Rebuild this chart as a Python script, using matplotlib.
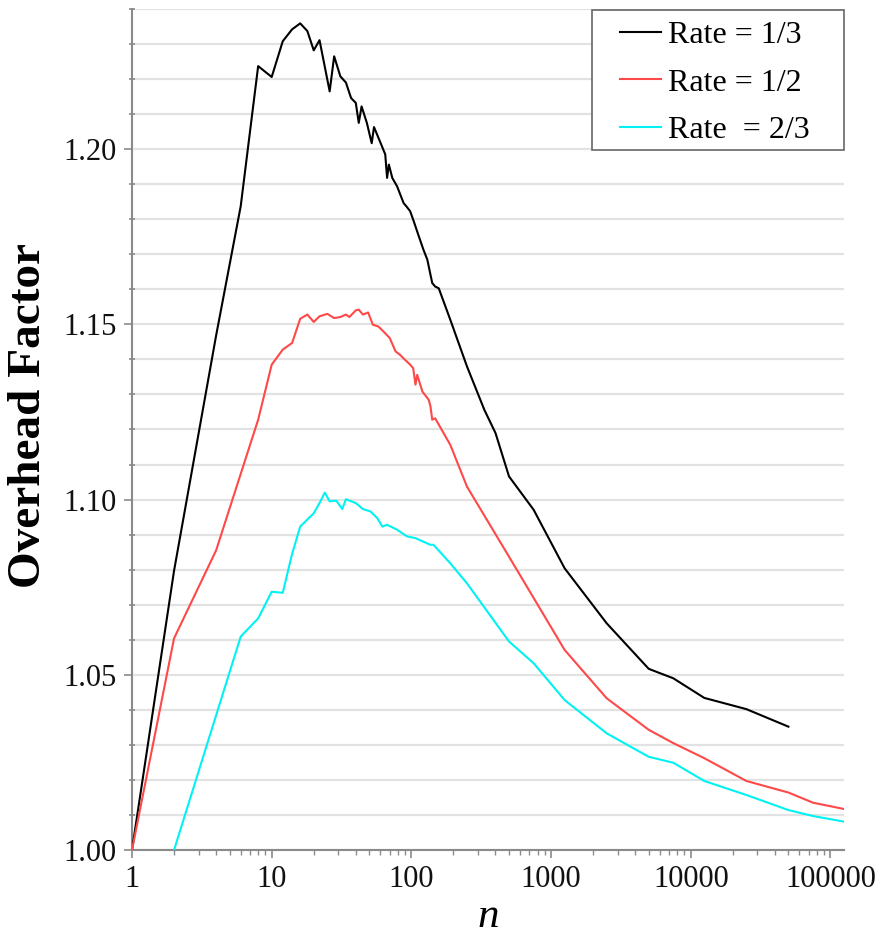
import matplotlib
matplotlib.use("Agg")
import matplotlib.pyplot as plt
from matplotlib.patches import Rectangle
from matplotlib.ticker import FixedLocator, NullFormatter, LogLocator

# ---- data ----
n_13 = [1, 2, 4, 6, 8, 10, 12, 14, 16, 18, 20, 22, 26, 28, 31, 34, 37, 40, 42, 44,
        48, 52, 54, 60, 65, 67, 69, 73, 79, 88, 92, 98, 104, 112, 122, 130, 141,
        148, 157, 190, 250, 333, 400, 500, 750, 1250, 2500, 5000, 7500, 12500,
        25000, 50000]
v_13 = [1.000, 1.0797, 1.1468, 1.1837, 1.2237, 1.2206, 1.2308, 1.2342, 1.2359,
        1.2337, 1.2282, 1.2311, 1.2165, 1.2265, 1.2208, 1.2190, 1.2146, 1.2132,
        1.2075, 1.2122, 1.2075, 1.2017, 1.2063, 1.2019, 1.1985, 1.1918, 1.1956,
        1.1918, 1.1894, 1.1846, 1.1837, 1.1823, 1.1794, 1.1756, 1.1713, 1.1685,
        1.1618, 1.1608, 1.1603, 1.1513, 1.1380, 1.1256, 1.1190, 1.1066, 1.0971,
        1.0804, 1.0647, 1.0517, 1.0490, 1.0434, 1.0402, 1.0352]

n_12 = [1, 2, 4, 8, 10, 12, 14, 16, 18, 20, 22, 25, 28, 31, 34, 36, 40, 42, 45,
        49, 53, 58, 63, 70, 77, 83, 90, 98, 103, 107, 110, 120, 133, 137, 141,
        148, 190, 250, 500, 1250, 2500, 5000, 7500, 12500, 25000, 50000, 75000,
        125000]
v_12 = [1.000, 1.0604, 1.0855, 1.1228, 1.1385, 1.1428, 1.1447, 1.1516, 1.1528,
        1.1507, 1.1523, 1.1530, 1.1518, 1.1521, 1.1528, 1.1521, 1.1540, 1.1542,
        1.1528, 1.1534, 1.1499, 1.1494, 1.1480, 1.1461, 1.1423, 1.1413, 1.1399,
        1.1385, 1.1375, 1.1328, 1.1356, 1.1308, 1.1285, 1.1266, 1.1228, 1.1232,
        1.1156, 1.1037, 1.0837, 1.0571, 1.0433, 1.0343, 1.0305, 1.0262, 1.0197,
        1.0164, 1.0135, 1.0117]

n_23 = [2, 6, 8, 10, 12, 14, 16, 20, 22, 24, 26, 29, 32, 34, 40, 45, 51, 57, 62,
        67, 79, 93, 107, 120, 137, 144, 190, 250, 500, 750, 1250, 2500, 5000,
        7500, 12500, 25000, 50000, 75000, 125000]
v_23 = [1.000, 1.0609, 1.0661, 1.0737, 1.0734, 1.0845, 1.0923, 1.0961, 1.0990,
        1.1020, 1.0995, 1.0997, 1.0973, 1.1001, 1.0990, 1.0973, 1.0966, 1.0947,
        1.0923, 1.0928, 1.0914, 1.0895, 1.0890, 1.0881, 1.0871, 1.0871, 1.0818,
        1.0761, 1.0595, 1.0533, 1.0428, 1.0333, 1.0266, 1.0249, 1.0197, 1.0157,
        1.0114, 1.0097, 1.0081]

labels = ["Rate = 1/3", "Rate = 1/2", "Rate  = 2/3"]
colors = ["#000000", "#ff4848", "#00f2f2"]

x_ticks = [1, 10, 100, 1000, 10000, 100000]
x_tick_labels = ["1", "10", "100", "1000", "10000", "100000"]
y_ticks = [1.00, 1.05, 1.10, 1.15, 1.20]
y_tick_labels = ["1.00", "1.05", "1.10", "1.15", "1.20"]

# ---- figure ----
plt.rcParams['font.family'] = ['Liberation Serif', 'DejaVu Serif']
W, H = 884, 936
fig = plt.figure(figsize=(W/100, H/100), dpi=100)
AX_L, AX_R, AX_T, AX_B = 132, 844, 9, 850
ax = fig.add_axes([AX_L/W, (H-AX_B)/H, (AX_R-AX_L)/W, (AX_B-AX_T)/H])

def ax_x(px):
    return (px - AX_L) / (AX_R - AX_L)

def ax_y(py):
    return (AX_B - py) / (AX_B - AX_T)

for n, v, lab, c in zip([n_13, n_12, n_23], [v_13, v_12, v_23], labels, colors):
    ax.plot(n, v, color=c, lw=1.5, label=lab, zorder=3)

ax.set_xscale('log')
ax.set_xlim(1, 125000)
ax.set_ylim(1.0, 1.24)

ax.set_xticks(x_ticks)
ax.set_xticklabels(x_tick_labels)
ax.xaxis.set_minor_locator(LogLocator(base=10, subs=range(2, 10), numticks=20))
ax.xaxis.set_minor_formatter(NullFormatter())

ax.set_yticks(y_ticks)
ax.set_yticklabels(y_tick_labels)
ax.yaxis.set_minor_locator(FixedLocator([1.0 + 0.01*i for i in range(25)]))

ax.grid(False)
ax.yaxis.grid(True, which='both', color='#e2e2e2', lw=1.6, zorder=0)
ax.set_axisbelow(True)

for s in ['top', 'right']:
    ax.spines[s].set_visible(False)
for s in ['left', 'bottom']:
    ax.spines[s].set_color('#8a8a8a')
    ax.spines[s].set_linewidth(1.5)

ax.tick_params(axis='both', which='major', labelsize=22, colors='#8a8a8a',
               labelcolor='#111111', length=6, width=1.2, pad=5)
ax.tick_params(axis='y', which='minor', direction='inout', length=4, width=1.2,
               colors='#8a8a8a')
ax.tick_params(axis='x', which='minor', length=3.5, width=1.0, colors='#8a8a8a')

ax.set_ylabel("Overhead Factor", fontsize=34, fontweight='bold')
ax.yaxis.set_label_coords(ax_x(50), ax_y(416))
ax.set_xlabel("n", fontsize=31, fontstyle='italic', labelpad=2)

# legend frame (square box, reference proportions)
frame = Rectangle((ax_x(592), ax_y(150)), ax_x(844) - ax_x(592),
                  ax_y(10) - ax_y(150), transform=ax.transAxes,
                  facecolor='white', edgecolor='#666666', lw=1.2, zorder=4,
                  clip_on=False)
ax.add_patch(frame)

leg = ax.legend(loc='upper left', bbox_to_anchor=(ax_x(620), ax_y(21)),
                borderaxespad=0, borderpad=0, fontsize=23, frameon=False,
                handlelength=1.28, handletextpad=0.22, labelspacing=0.56)
leg.set_zorder(5)

fig.savefig("out.png", dpi=100, facecolor='white')
